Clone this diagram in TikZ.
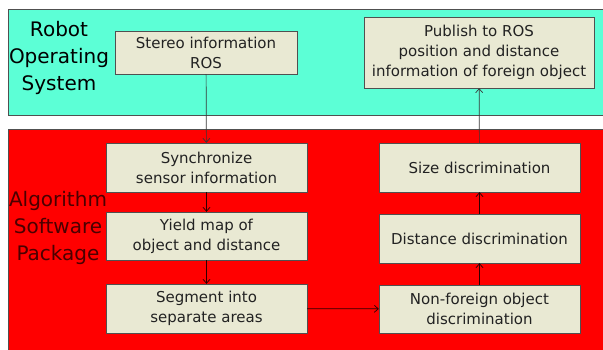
\documentclass[tikz,border=0pt]{standalone}
\usepackage{fontspec}
\setmainfont{DejaVu Sans}
\usepackage{tikz}
\usetikzlibrary{positioning}
\usetikzlibrary{arrows.meta}

\definecolor{rosbg}{HTML}{5CFFD6}
\definecolor{algbg}{HTML}{FF0000}
\definecolor{boxbg}{HTML}{E9E9D3}
\definecolor{edge}{HTML}{505050}
\definecolor{txt}{HTML}{222222}
\definecolor{darkred}{HTML}{4A0000}

\begin{document}
\begin{tikzpicture}[
		x=1pt,y=-1pt,
		blk/.style={draw=edge, fill=boxbg, text=txt, align=center, inner sep=0pt,
			font=\fontsize{15}{20}\selectfont},
		lbl/.style={align=center, font=\fontsize{20}{27}\selectfont},
		flow/.style={-{Straight Barb[length=4pt,width=7pt]}, draw=darkred!60!black, line width=0.7pt}
	]
		\useasboundingbox (0,0) rectangle (603,350);
		\clip (0,0) rectangle (603,350);
		% the two layers
		\draw[edge, fill=rosbg, line width=0.8pt] (8,9) rectangle (615,115);
		\draw[edge, fill=algbg, line width=0.8pt] (8,129) rectangle (615,365);
		\node[lbl, text=black] (ros) at (59,58) {Robot\\Operating\\System};
		\node[lbl, text=darkred] (alg) at (58,228) {Algorithm\\Software\\Package};

		% boxes
		\node[blk, minimum width=182, minimum height=43] (stereo) at (206,52.5) {Stereo information\\ROS};
		\node[blk, minimum width=230, minimum height=71] (publish) at (479,52.5)
			{Publish to ROS\\position and distance\\information of foreign object};
		\node[blk, minimum width=201, minimum height=49] (sync) at (206.5,167.5) {Synchronize\\sensor information};
		\node[blk, minimum width=201, minimum height=48] (yield) at (206.5,236) {Yield map of\\object and distance};
		\node[blk, minimum width=201, minimum height=49] (segment) at (206.5,308.5) {Segment into\\separate areas};
		\node[blk, minimum width=201, minimum height=49] (size) at (479.5,167.5) {Size discrimination};
		\node[blk, minimum width=201, minimum height=49] (dist) at (479.5,238.5) {Distance discrimination};
		\node[blk, minimum width=201, minimum height=48] (nonfor) at (479.5,309) {Non-foreign object\\discrimination};

		% connectors
		\draw[flow, draw=edge!70!black] (stereo) -- (sync);
		\draw[flow] (sync) -- (yield);
		\draw[flow] (yield) -- (segment);
		\draw[flow] (segment) -- (nonfor);
		\draw[flow] (nonfor) -- (dist);
		\draw[flow] (dist) -- (size);
		\draw[flow, draw=edge!70!black] (size) -- (publish);
	\end{tikzpicture}
\end{document}
